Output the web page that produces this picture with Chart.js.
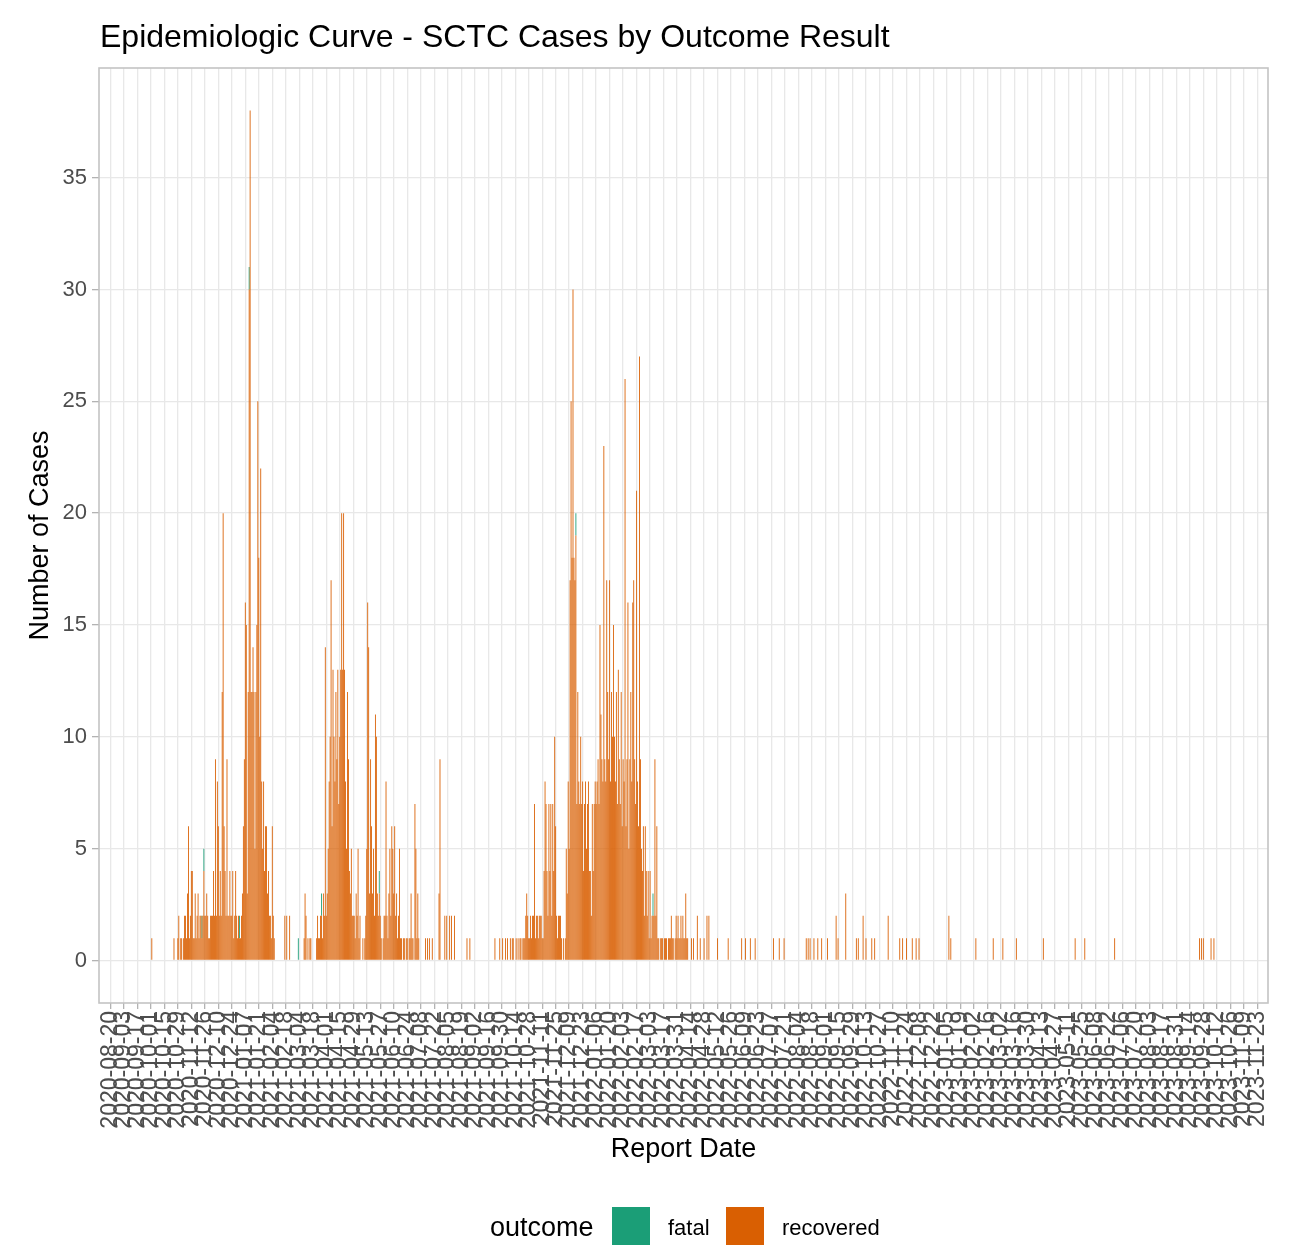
<!DOCTYPE html>
<html>
<head>
<meta charset="utf-8">
<title>Epidemiologic Curve - SCTC Cases by Outcome Result</title>
<script src="https://cdn.jsdelivr.net/npm/chart.js@4.4.1/dist/chart.umd.min.js"></script>
<style>
  html, body { margin: 0; padding: 0; background: #fff; }
  #wrap { width: 1296px; height: 1245px; position: relative; }
</style>
</head>
<body>
<div id="wrap"><canvas id="epiCurve"></canvas></div>
<script>
// axis setup
const firstTick = '2020-08-20'
const lastTick = '2023-11-23'
const tickStepDays = 14
const yTicks = [0, 5, 10, 15, 20, 25, 30, 35]

// daily recovered counts, one value per day from the start date
const wave1Start = '2020-10-19'
const wave1Recovered = [
    0,0,0,0,0,0,
    1,0,0,0,1,2,0,1,1,0,
    1,2,2,1,3,6,1,2,4,4,
    1,1,3,1,2,3,1,2,2,1,
    2,4,2,2,3,2,1,1,2,2,
    2,4,2,9,2,8,6,2,4,2,
    12,20,6,4,2,9,2,2,4,2,
    2,4,1,2,4,2,1,2,1,1,
    2,3,6,9,16,15,3,12,30,38,
    12,12,14,12,5,12,15,25,18,10,
    22,8,5,8,4,6,6,3,4,2,
    2,1,6,2,1,0,0,0,0,0,
    0,0,0,0,0,2,0,2,0,0
]

const wave2Start = '2021-02-22'
const wave2Recovered = [
    2,0,0,0,0,0,0,0,0,0,
    0,0,0,0,0,1,3,2,0,1,
    0,1,1,0,0,0,0,0,1,2,
    1,1,2,2,1,3,2,14,2,3,
    5,8,10,17,6,13,10,8,12,9,
    13,7,10,13,20,13,20,13,8,5,
    12,9,4,3,5,2,2,2,1,3,
    2,5,1,2,0,0,1,0,1,2,
    5,16,14,3,9,6,3,5,2,11,
    10,3,2,3,2,1,0,1,2,2,
    8,2,1,3,5,2,6,5,3,6,
    2,3,1,2,5,1,1,0,1,1,
    0,1,1,0,1,1,3,1,1,0,
    7,5,1,3,1,0,0,0,0,0,
    0,1,0,1,0,1,0,0,1,0,
    0,0,0,0,0,3,9,0,0,0,
    0,2,0,2,0,0,2,0,2,0,
    0,2,0,0,0,0,0,0,0,0,
    0,0,0,0,1,0,0,1
]

const wave3Start = '2021-09-19'
const wave3Recovered = [
    0,0,0,0,1,0,0,0,0,1,
    0,0,1,0,0,1,0,1,0,0,
    1,0,1,1,0,0,1,0,1,0,
    1,1,0,1,1,1,2,3,2,1,
    1,2,1,2,2,7,1,2,2,1,
    2,2,2,1,1,4,8,7,4,2,
    7,4,7,2,7,4,10,6,2,1,
    2,2,2,1,0,1,0,1,5,3,
    8,5,17,25,18,30,18,17,19,7,
    12,8,7,10,7,8,4,7,8,5,
    7,8,4,4,2,7,4,7,8,7,
    8,9,7,15,11,9,8,23,9,8,
    17,12,9,17,8,12,10,15,10,8,
    12,7,13,9,7,12,6,9,8,26,
    6,9,16,5,9,12,8,16,17,9,
    7,21,8,6,27,9,5,4,6,2,
    6,4,2,4,1,4,1,2,2,2,
    9,2,6,1,1,0,1,1,1,0,
    1,1,1,0,1,1,1,2,1,1,
    0,1,2,1,2,1,1,2,1,2,
    1,1,3,1,1,0
]

// scattered recovered cases outside the waves
const otherDates = [
    '2020-10-02',
    '2022-04-15','2022-04-17','2022-04-21','2022-04-24','2022-04-28','2022-05-01','2022-05-03',
    '2022-05-12','2022-05-23','2022-06-06','2022-06-10','2022-06-15','2022-06-20',
    '2022-07-09','2022-07-15','2022-07-20','2022-08-12','2022-08-14','2022-08-16','2022-08-20',
    '2022-08-24','2022-08-28','2022-09-03','2022-09-12','2022-09-14','2022-09-22',
    '2022-10-03','2022-10-05','2022-10-10','2022-10-13','2022-10-19','2022-10-22',
    '2022-11-05','2022-11-17','2022-11-20','2022-11-24','2022-11-30','2022-12-04','2022-12-07',
    '2023-01-07','2023-01-09','2023-02-04','2023-02-22','2023-03-04','2023-03-18',
    '2023-04-15','2023-05-18','2023-05-28','2023-06-28',
    '2023-09-24','2023-09-26','2023-09-28','2023-10-06','2023-10-09'
]
const otherCounts = [
    1,
    1,1,2,1,1,2,2,
    1,1,1,1,1,1,
    1,1,1,1,1,1,1,
    1,1,1,2,1,3,
    1,1,2,1,1,1,
    2,1,1,1,1,1,1,
    2,1,1,1,1,1,
    1,1,1,1,
    1,1,1,1,1
]

const fatalDates = ['2020-11-23','2020-11-25','2021-01-01','2021-01-11','2021-03-03','2021-03-27','2021-05-26','2021-12-16','2022-03-06']
const fatalCounts = [1, 1, 1, 1, 1, 1, 1, 1, 1]

const fontFamily = '"Liberation Sans", Arial, sans-serif'

function dayOf(s) {
    const [y, m, d] = s.split('-').map(Number)
    const [y0, m0, d0] = firstTick.split('-').map(Number)
    return Math.round((Date.UTC(y, m - 1, d) - Date.UTC(y0, m0 - 1, d0)) / 86400000)
}

function dateOf(n) {
    const [y0, m0, d0] = firstTick.split('-').map(Number)
    return new Date(Date.UTC(y0, m0 - 1, d0) + n * 86400000).toISOString().slice(0, 10)
}

let recoveredPoints = []
function addWave(start, counts) {
    const d0 = dayOf(start)
    counts.forEach((c, i) => {
        if (c > 0) recoveredPoints.push({x: d0 + i, y: c})
    })
}
addWave(wave1Start, wave1Recovered)
addWave(wave2Start, wave2Recovered)
addWave(wave3Start, wave3Recovered)
otherDates.forEach((s, i) => recoveredPoints.push({x: dayOf(s), y: otherCounts[i]}))
recoveredPoints.sort((a, b) => a.x - b.x)

let fatalPoints = fatalDates.map((s, i) => ({x: dayOf(s), y: fatalCounts[i]}))

const lastDay = dayOf(lastTick)
let tickDays = []
for (let d = 0; d <= lastDay; d += tickStepDays) tickDays.push(d)

// title, panel border and legend
const decorations = {
    id: 'decorations',
    afterDatasetsDraw(chart) {
        const {ctx, chartArea: a} = chart
        ctx.save()
        ctx.strokeStyle = '#c4c4c4'
        ctx.lineWidth = 1.6
        ctx.strokeRect(a.left, a.top, a.right - a.left, a.bottom - a.top)
        ctx.restore()
    },
    afterDraw(chart) {
        const ctx = chart.ctx
        ctx.save()
        ctx.fillStyle = '#000'
        ctx.textBaseline = 'alphabetic'
        ctx.font = '32px ' + fontFamily
        ctx.fillText('Epidemiologic Curve - SCTC Cases by Outcome Result', 100, 47)

        ctx.textBaseline = 'middle'
        ctx.font = '27px ' + fontFamily
        ctx.fillText('outcome', 490, 1229)
        const items = [
            {label: 'fatal', color: chart.data.datasets[1].backgroundColor, x: 612},
            {label: 'recovered', color: chart.data.datasets[0].backgroundColor, x: 726}
        ]
        ctx.font = '22px ' + fontFamily
        for (const it of items) {
            ctx.fillStyle = it.color
            ctx.fillRect(it.x, 1207, 38, 40)
            ctx.fillStyle = '#000'
            ctx.fillText(it.label, it.x + 56, 1229)
        }
        ctx.restore()
    }
}

new Chart(document.getElementById('epiCurve'), {
    type: 'bar',
    data: {
        datasets: [{
            label: 'recovered',
            data: recoveredPoints,
            backgroundColor: '#D95F02',
            borderWidth: 0,
            barPercentage: 0.9,
            categoryPercentage: 1
        }, {
            label: 'fatal',
            data: fatalPoints,
            backgroundColor: '#1B9E77',
            borderWidth: 0,
            barPercentage: 0.9,
            categoryPercentage: 1
        }]
    },
    options: {
        responsive: true,
        maintainAspectRatio: false,
        animation: false,
        layout: {
            padding: {top: 68, right: 28, bottom: 70, left: 0}
        },
        plugins: {
            legend: {display: false},
            tooltip: {enabled: false}
        },
        scales: {
            x: {
                type: 'linear',
                stacked: true,
                offset: false,
                min: -11.8,
                max: lastDay + 11.1,
                afterBuildTicks: scale => {
                    scale.ticks = tickDays.map(v => ({value: v}))
                },
                afterFit: scale => {
                    scale.height = 172
                },
                ticks: {
                    autoSkip: false,
                    minRotation: 90,
                    maxRotation: 90,
                    padding: 2,
                    color: '#4d4d4d',
                    font: {family: fontFamily, size: 23},
                    callback: v => dateOf(v)
                },
                grid: {
                    offset: false,
                    color: '#e8e8e8',
                    lineWidth: 1.3,
                    tickLength: 6,
                    tickColor: '#b3b3b3'
                },
                border: {display: false},
                title: {
                    display: true,
                    text: 'Report Date',
                    color: '#000',
                    font: {family: fontFamily, size: 27},
                    padding: {top: 0, bottom: 9}
                }
            },
            y: {
                stacked: true,
                min: -1.9,
                max: 39.9,
                afterBuildTicks: scale => {
                    scale.ticks = yTicks.map(v => ({value: v}))
                },
                afterFit: scale => {
                    scale.width = 99
                },
                ticks: {
                    color: '#4d4d4d',
                    padding: 5,
                    font: {family: fontFamily, size: 22}
                },
                grid: {
                    color: '#e8e8e8',
                    lineWidth: 1.3,
                    tickLength: 7,
                    tickColor: '#b3b3b3'
                },
                border: {display: false},
                title: {
                    display: true,
                    text: 'Number of Cases',
                    color: '#000',
                    font: {family: fontFamily, size: 27},
                    padding: {top: 24, bottom: 0}
                }
            }
        }
    },
    plugins: [decorations]
})
</script>
</body>
</html>
